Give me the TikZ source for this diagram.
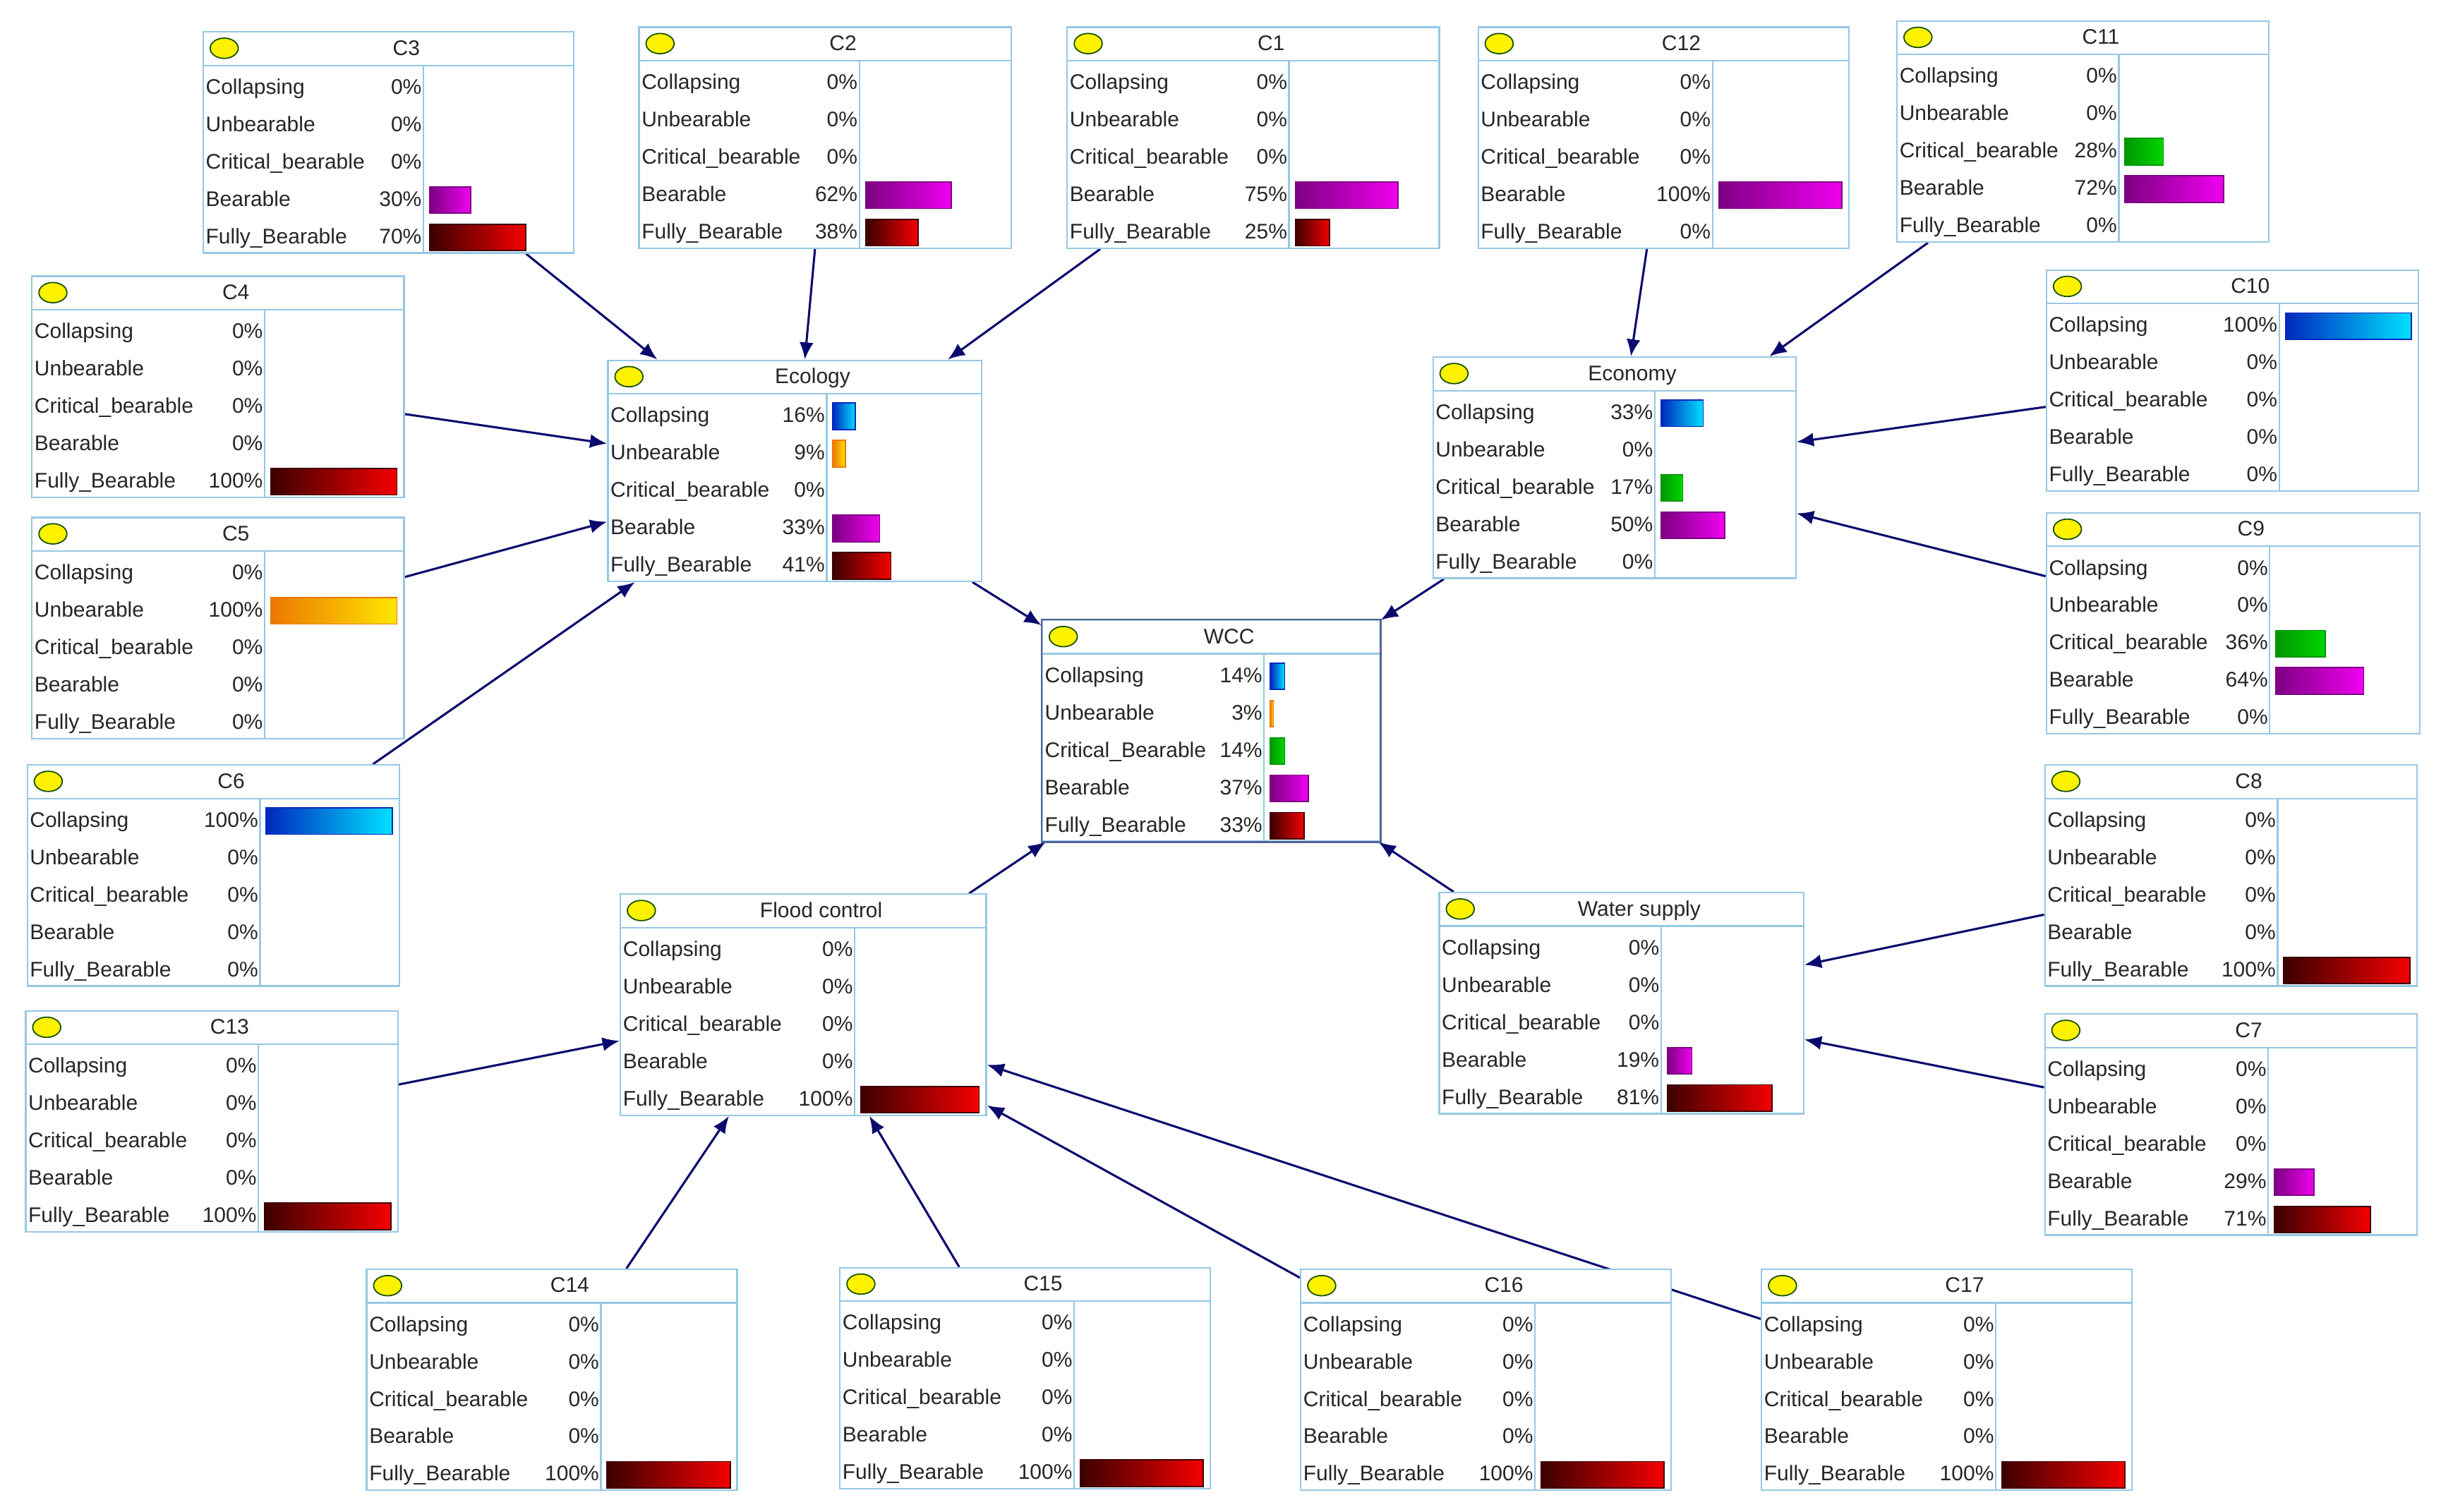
\documentclass[tikz,border=0pt]{standalone}
\usepackage{fontspec}
\setmainfont{Liberation Sans}
\usetikzlibrary{shapes.geometric,arrows.meta}
\pgfdeclarelayer{background}\pgfsetlayers{background,main}
\definecolor{boxc}{RGB}{150,200,228}
\definecolor{selc}{RGB}{80,100,150}
\definecolor{arr}{RGB}{10,10,110}
\definecolor{bld}{RGB}{0,40,190}\definecolor{blb}{RGB}{0,225,255}
\definecolor{ord}{RGB}{235,120,0}\definecolor{orb}{RGB}{255,230,0}
\definecolor{grd}{RGB}{0,150,0}\definecolor{grb}{RGB}{0,215,0}
\definecolor{pud}{RGB}{125,0,130}\definecolor{pub}{RGB}{240,0,240}
\definecolor{red}{RGB}{60,0,0}\definecolor{reb}{RGB}{245,0,0}
\tikzset{
 bnbox/.style={draw=boxc,fill=white,line width=1pt,inner sep=0pt,rectangle},
 bnline/.style={draw=boxc,line width=1pt},
 dot/.style={ellipse,draw={rgb,255:red,90;green,80;blue,0},fill=yellow,minimum width=18pt,minimum height=13pt,inner sep=0pt,line width=0.8pt},
 lbl/.style={font=\fontsize{13.6}{14}\selectfont,inner sep=0pt,text=black!85,text height=9.8pt,text depth=2.9pt},
 edge/.style={draw=arr,line width=1.4pt,-{Latex[length=11pt,width=9pt]}}
}
\def\critlabel{Critical\_bearable}
\newcommand\bnrow[5]{% idx label pct color
 \node[lbl,anchor=west] (\bnN-l#1) at (\bnX+2,\bnY+22+15+24*#1-24) {#2};
 \node[lbl,anchor=east] (\bnN-p#1) at (\bnX+\bnD-1,\bnY+22+15+24*#1-24) {#3\%};
 \ifnum#3>0 \draw[draw=#4d,left color=#4d,right color=#4b,line width=0.8pt] (\bnX+\bnD+4,\bnY+22+6+24*#1-24) rectangle ++({#3/100*(\bnW-\bnD-8)},17);\fi}
\def\bnrows#1/#2/#3/#4/#5\relax{%
 \bnrow{1}{Collapsing}{#1}{bl}{}%
 \bnrow{2}{Unbearable}{#2}{or}{}%
 \bnrow{3}{\critlabel}{#3}{gr}{}%
 \bnrow{4}{Bearable}{#4}{pu}{}%
 \bnrow{5}{Fully\_Bearable}{#5}{re}{}}
\newcommand\bn[7]{%
 \def\bnN{#1}\def\bnX{#3}\def\bnY{#4}\def\bnW{#5}\def\bnD{#6}%
 \node[bnbox,minimum width=#5pt,minimum height=142pt,anchor=north west] (#1) at (#3,#4) {};
 \draw[bnline] (#3,#4+22) -- ++(#5,0);
 \draw[bnline] (#3+#6,#4+22) -- (#3+#6,#4+142);
 \node[dot] (#1-d) at (#3+14,#4+11) {};
 \node[lbl] (#1-t) at (#3+#5/2+12,#4+12) {#2};
 \bnrows#7\relax}
\begin{document}
\begin{tikzpicture}[x=1pt,y=-1pt]
\begin{pgfonlayer}{background}
\fill[white] (0,0) rectangle (1568,971);
\end{pgfonlayer}
\useasboundingbox (0,0) rectangle (1568,971);
\bn{c3}{C3}{130}{20}{238}{142}{0/0/0/30/70}
\bn{c2}{C2}{410}{17}{239}{142}{0/0/0/62/38}
\bn{c1}{C1}{685}{17}{239}{143}{0/0/0/75/25}
\bn{c12}{C12}{949}{17}{238}{151}{0/0/0/100/0}
\bn{c11}{C11}{1218}{13}{239}{143}{0/0/28/72/0}
\bn{c4}{C4}{20}{177}{239}{150}{0/0/0/0/100}
\bn{c10}{C10}{1314}{173}{239}{150}{100/0/0/0/0}
\bn{eco}{Ecology}{390}{231}{240}{141}{16/9/0/33/41}
\bn{econ}{Economy}{920}{229}{233}{143}{33/0/17/50/0}
\bn{c5}{C5}{20}{332}{239}{150}{0/100/0/0/0}
\bn{c9}{C9}{1314}{329}{240}{144}{0/0/36/64/0}
\bn{c6}{C6}{17}{491}{239}{150}{100/0/0/0/0}
\bn{c8}{C8}{1313}{491}{239}{150}{0/0/0/0/100}
\bn{ws}{Water supply}{924}{573}{234}{143}{0/0/0/19/81}
\bn{fc}{Flood control}{398}{574}{235}{151}{0/0/0/0/100}
\bn{c13}{C13}{16}{649}{239}{150}{0/0/0/0/100}
\bn{c7}{C7}{1313}{651}{239}{144}{0/0/0/29/71}
\bn{c14}{C14}{235}{815}{238}{151}{0/0/0/0/100}
\bn{c15}{C15}{539}{814}{238}{151}{0/0/0/0/100}
\bn{c16}{C16}{835}{815}{238}{151}{0/0/0/0/100}
\bn{c17}{C17}{1131}{815}{238}{151}{0/0/0/0/100}
\def\critlabel{Critical\_Bearable}
\bn{wcc}{WCC}{669}{398}{217}{143}{14/3/14/37/33}
\draw[selc,line width=1.2pt] (wcc.north west) rectangle (wcc.south east);
\begin{pgfonlayer}{background}
\foreach \a/\b in {c3/eco,c2/eco,c1/eco,c4/eco,c5/eco,c6/eco,c12/econ,c11/econ,c10/econ,c9/econ,eco/wcc,econ/wcc,fc/wcc,ws/wcc,c8/ws,c7/ws,c13/fc,c14/fc,c15/fc,c16/fc,c17/fc}
  \draw[edge] (\a) -- (\b);
\end{pgfonlayer}
\end{tikzpicture}
\end{document}
